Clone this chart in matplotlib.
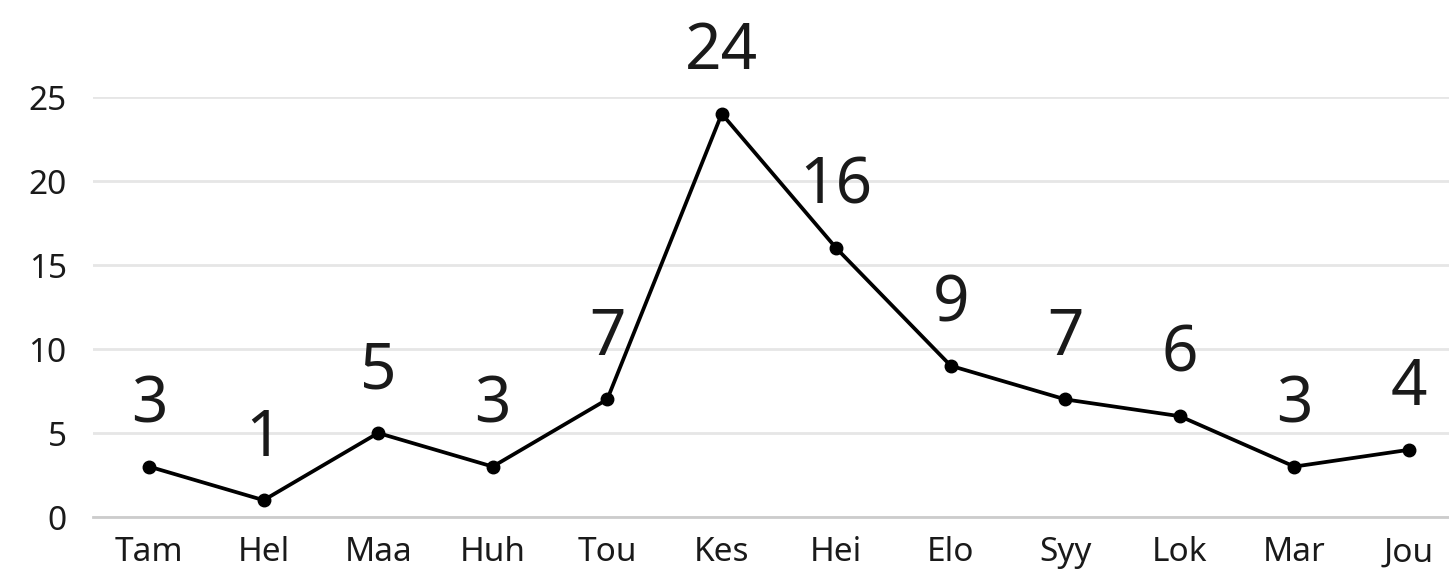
import matplotlib
matplotlib.use("Agg")
import matplotlib.pyplot as plt

months = ["Tam", "Hel", "Maa", "Huh", "Tou", "Kes", "Hei", "Elo", "Syy", "Lok", "Mar", "Jou"]
values = [3, 1, 5, 3, 7, 24, 16, 9, 7, 6, 3, 4]
yticks = [0, 5, 10, 15, 20, 25]

plt.rcParams['font.family'] = ['Noto Sans', 'DejaVu Sans']
text_color = "#1a1a1a"

fig = plt.figure(figsize=(14.49, 5.71), dpi=100)
ax = fig.add_axes([93/1449, 1 - 517/571, 1 - 93/1449, (517 - 97)/571])

x = list(range(len(months)))
ax.plot(x, values, color="black", lw=2.7, marker="o", markersize=9, zorder=3, clip_on=False)
for xi, v in zip(x, values):
    ax.annotate(str(v), (xi, v), xytext=(0, 32), textcoords="offset points",
                ha="center", va="baseline", fontsize=46, color=text_color,
                annotation_clip=False)

ax.set_xlim(-0.49, 11.35)
ax.set_ylim(0, 25)
ax.set_yticks(yticks)
ax.set_xticks(x)
ax.set_xticklabels(months)
ax.grid(axis="y", color="#e6e6e6", lw=2)
ax.set_axisbelow(True)
for s in ["top", "right", "left"]:
    ax.spines[s].set_visible(False)
ax.spines["bottom"].set_color("#cccccc")
ax.spines["bottom"].set_linewidth(2)
ax.tick_params(axis="both", length=0, labelsize=24, colors=text_color)
ax.tick_params(axis="y", pad=19)
ax.tick_params(axis="x", pad=14)

fig.savefig("out.png", dpi=100)
